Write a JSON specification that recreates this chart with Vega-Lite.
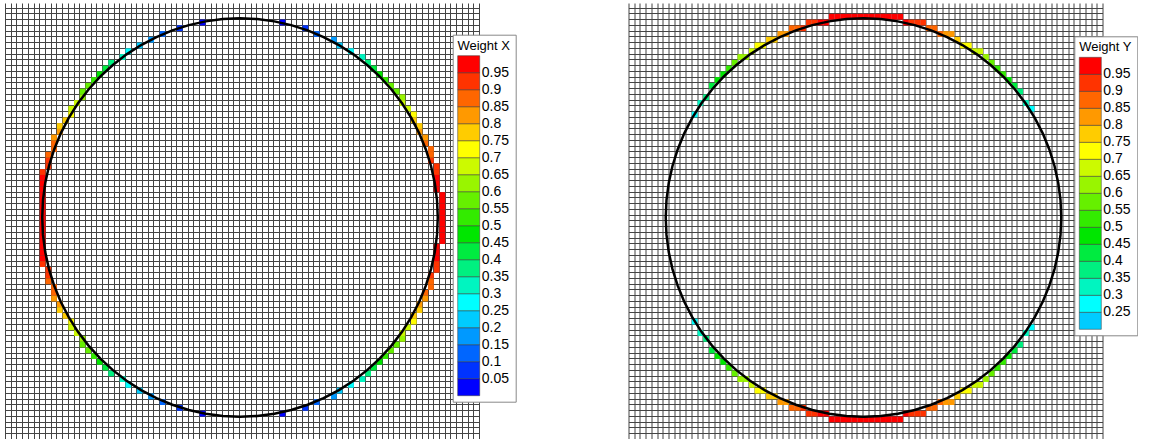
{
  "$schema": "https://vega.github.io/schema/vega-lite/v6.json",
  "background": "white",
  "padding": {"left": 5, "top": 3, "right": 0, "bottom": 0},
  "config": {
    "view": {"stroke": null},
    "font": "Liberation Sans",
    "concat": {"spacing": 111.5},
    "axis": {"grid": true, "labels": false, "ticks": false, "domain": false, "title": null, "gridColor": "#444444", "gridWidth": 1, "gridOpacity": 1, "zindex": 1},
    "legend": {"type": "gradient", "orient": "none", "padding": 5, "strokeColor": "#888888", "fillColor": "white", "titleFont": "Liberation Sans", "labelFont": "Liberation Sans", "titleFontSize": 13, "labelFontSize": 14, "titleFontWeight": "normal", "titleColor": "black", "labelColor": "black", "titleAnchor": "middle", "titlePadding": 3, "gradientThickness": 22, "gradientStrokeColor": "#333333", "gradientStrokeWidth": 0.5, "direction": "vertical", "format": ".2~f", "labelOverlap": false, "labelOffset": 9}
  },
  "resolve": {"scale": {"color": "independent"}, "legend": {"color": "independent"}},
  "datasets": {
    "cellsX": [
      {"c": 6, "r": 36, "w": 1},
      {"c": 6, "r": 35, "w": 0.9992}, {"c": 76, "r": 35, "w": 0.9992}, {"c": 6, "r": 37, "w": 0.9992}, {"c": 76, "r": 37, "w": 0.9992},
      {"c": 6, "r": 34, "w": 0.9967}, {"c": 76, "r": 34, "w": 0.9967}, {"c": 6, "r": 38, "w": 0.9967}, {"c": 76, "r": 38, "w": 0.9967},
      {"c": 6, "r": 33, "w": 0.9925}, {"c": 76, "r": 33, "w": 0.9925}, {"c": 6, "r": 39, "w": 0.9925}, {"c": 76, "r": 39, "w": 0.9925},
      {"c": 6, "r": 32, "w": 0.9867}, {"c": 76, "r": 32, "w": 0.9867}, {"c": 6, "r": 40, "w": 0.9867}, {"c": 76, "r": 40, "w": 0.9867},
      {"c": 6, "r": 31, "w": 0.9792}, {"c": 75, "r": 31, "w": 0.9792}, {"c": 6, "r": 41, "w": 0.9792}, {"c": 75, "r": 41, "w": 0.9792},
      {"c": 6, "r": 30, "w": 0.97}, {"c": 75, "r": 30, "w": 0.97}, {"c": 6, "r": 42, "w": 0.97}, {"c": 75, "r": 42, "w": 0.97},
      {"c": 6, "r": 29, "w": 0.9591}, {"c": 75, "r": 29, "w": 0.9591}, {"c": 6, "r": 43, "w": 0.9591}, {"c": 75, "r": 43, "w": 0.9591},
      {"c": 6, "r": 28, "w": 0.9466}, {"c": 75, "r": 28, "w": 0.9466}, {"c": 6, "r": 44, "w": 0.9466}, {"c": 75, "r": 44, "w": 0.9466},
      {"c": 7, "r": 27, "w": 0.9325}, {"c": 75, "r": 27, "w": 0.9325}, {"c": 7, "r": 45, "w": 0.9325}, {"c": 75, "r": 45, "w": 0.9325},
      {"c": 7, "r": 26, "w": 0.9166}, {"c": 74, "r": 26, "w": 0.9166}, {"c": 7, "r": 46, "w": 0.9166}, {"c": 74, "r": 46, "w": 0.9166},
      {"c": 7, "r": 25, "w": 0.8991}, {"c": 74, "r": 25, "w": 0.8991}, {"c": 7, "r": 47, "w": 0.8991}, {"c": 74, "r": 47, "w": 0.8991},
      {"c": 8, "r": 24, "w": 0.8799}, {"c": 74, "r": 24, "w": 0.8799}, {"c": 8, "r": 48, "w": 0.8799}, {"c": 74, "r": 48, "w": 0.8799},
      {"c": 8, "r": 23, "w": 0.8591}, {"c": 73, "r": 23, "w": 0.8591}, {"c": 8, "r": 49, "w": 0.8591}, {"c": 73, "r": 49, "w": 0.8591},
      {"c": 8, "r": 22, "w": 0.8366}, {"c": 73, "r": 22, "w": 0.8366}, {"c": 8, "r": 50, "w": 0.8366}, {"c": 73, "r": 50, "w": 0.8366},
      {"c": 9, "r": 21, "w": 0.8124}, {"c": 72, "r": 21, "w": 0.8124}, {"c": 9, "r": 51, "w": 0.8124}, {"c": 72, "r": 51, "w": 0.8124},
      {"c": 9, "r": 20, "w": 0.7865}, {"c": 72, "r": 20, "w": 0.7865}, {"c": 9, "r": 52, "w": 0.7865}, {"c": 72, "r": 52, "w": 0.7865},
      {"c": 10, "r": 19, "w": 0.759}, {"c": 71, "r": 19, "w": 0.759}, {"c": 10, "r": 53, "w": 0.759}, {"c": 71, "r": 53, "w": 0.759},
      {"c": 11, "r": 18, "w": 0.7298}, {"c": 71, "r": 18, "w": 0.7298}, {"c": 11, "r": 54, "w": 0.7298}, {"c": 71, "r": 54, "w": 0.7298},
      {"c": 11, "r": 17, "w": 0.699}, {"c": 70, "r": 17, "w": 0.699}, {"c": 11, "r": 55, "w": 0.699}, {"c": 70, "r": 55, "w": 0.699},
      {"c": 12, "r": 16, "w": 0.6665}, {"c": 69, "r": 16, "w": 0.6665}, {"c": 12, "r": 56, "w": 0.6665}, {"c": 69, "r": 56, "w": 0.6665},
      {"c": 13, "r": 15, "w": 0.6323}, {"c": 69, "r": 15, "w": 0.6323}, {"c": 13, "r": 57, "w": 0.6323}, {"c": 69, "r": 57, "w": 0.6323},
      {"c": 13, "r": 14, "w": 0.5964}, {"c": 68, "r": 14, "w": 0.5964}, {"c": 13, "r": 58, "w": 0.5964}, {"c": 68, "r": 58, "w": 0.5964},
      {"c": 14, "r": 13, "w": 0.5589}, {"c": 67, "r": 13, "w": 0.5589}, {"c": 14, "r": 59, "w": 0.5589}, {"c": 67, "r": 59, "w": 0.5589},
      {"c": 15, "r": 12, "w": 0.5197}, {"c": 66, "r": 12, "w": 0.5197}, {"c": 15, "r": 60, "w": 0.5197}, {"c": 66, "r": 60, "w": 0.5197},
      {"c": 16, "r": 11, "w": 0.4788}, {"c": 65, "r": 11, "w": 0.4788}, {"c": 16, "r": 61, "w": 0.4788}, {"c": 65, "r": 61, "w": 0.4788},
      {"c": 17, "r": 10, "w": 0.4363}, {"c": 64, "r": 10, "w": 0.4363}, {"c": 17, "r": 62, "w": 0.4363}, {"c": 64, "r": 62, "w": 0.4363},
      {"c": 18, "r": 9, "w": 0.3921}, {"c": 63, "r": 9, "w": 0.3921}, {"c": 18, "r": 63, "w": 0.3921}, {"c": 63, "r": 63, "w": 0.3921},
      {"c": 20, "r": 8, "w": 0.3463}, {"c": 62, "r": 8, "w": 0.3463}, {"c": 20, "r": 64, "w": 0.3463}, {"c": 62, "r": 64, "w": 0.3463},
      {"c": 21, "r": 7, "w": 0.2987}, {"c": 60, "r": 7, "w": 0.2987}, {"c": 21, "r": 65, "w": 0.2987}, {"c": 60, "r": 65, "w": 0.2987},
      {"c": 23, "r": 6, "w": 0.2495}, {"c": 58, "r": 6, "w": 0.2495}, {"c": 23, "r": 66, "w": 0.2495}, {"c": 58, "r": 66, "w": 0.2495},
      {"c": 25, "r": 5, "w": 0.1987}, {"c": 57, "r": 5, "w": 0.1987}, {"c": 25, "r": 67, "w": 0.1987}, {"c": 57, "r": 67, "w": 0.1987},
      {"c": 27, "r": 4, "w": 0.1461}, {"c": 54, "r": 4, "w": 0.1461}, {"c": 27, "r": 68, "w": 0.1461}, {"c": 54, "r": 68, "w": 0.1461},
      {"c": 30, "r": 3, "w": 0.0919}, {"c": 52, "r": 3, "w": 0.0919}, {"c": 30, "r": 69, "w": 0.0919}, {"c": 52, "r": 69, "w": 0.0919},
      {"c": 34, "r": 2, "w": 0.0361}, {"c": 48, "r": 2, "w": 0.0361}, {"c": 34, "r": 70, "w": 0.0361}, {"c": 48, "r": 70, "w": 0.0361},
      {"c": 76, "r": 36, "w": 1}
    ],
    "cellsY": [
      {"c": 11, "r": 18, "w": 0.2669}, {"c": 11, "r": 54, "w": 0.2669},
      {"c": 12, "r": 16, "w": 0.3156}, {"c": 12, "r": 56, "w": 0.3156},
      {"c": 13, "r": 15, "w": 0.3625}, {"c": 13, "r": 57, "w": 0.3625},
      {"c": 14, "r": 13, "w": 0.4078}, {"c": 14, "r": 59, "w": 0.4078},
      {"c": 15, "r": 12, "w": 0.4514}, {"c": 15, "r": 60, "w": 0.4514},
      {"c": 16, "r": 11, "w": 0.4933}, {"c": 16, "r": 61, "w": 0.4933},
      {"c": 17, "r": 10, "w": 0.5336}, {"c": 17, "r": 62, "w": 0.5336},
      {"c": 18, "r": 9, "w": 0.5722}, {"c": 18, "r": 63, "w": 0.5722},
      {"c": 19, "r": 8, "w": 0.6092}, {"c": 19, "r": 64, "w": 0.6092},
      {"c": 20, "r": 8, "w": 0.6444}, {"c": 20, "r": 64, "w": 0.6444},
      {"c": 21, "r": 7, "w": 0.678}, {"c": 21, "r": 65, "w": 0.678},
      {"c": 22, "r": 6, "w": 0.71}, {"c": 22, "r": 66, "w": 0.71},
      {"c": 23, "r": 6, "w": 0.7402}, {"c": 23, "r": 66, "w": 0.7402},
      {"c": 24, "r": 5, "w": 0.7688}, {"c": 24, "r": 67, "w": 0.7688},
      {"c": 25, "r": 5, "w": 0.7958}, {"c": 25, "r": 67, "w": 0.7958},
      {"c": 26, "r": 4, "w": 0.821}, {"c": 26, "r": 68, "w": 0.821},
      {"c": 27, "r": 4, "w": 0.8446}, {"c": 27, "r": 68, "w": 0.8446},
      {"c": 28, "r": 3, "w": 0.8666}, {"c": 28, "r": 69, "w": 0.8666},
      {"c": 29, "r": 3, "w": 0.8868}, {"c": 29, "r": 69, "w": 0.8868},
      {"c": 30, "r": 3, "w": 0.9054}, {"c": 30, "r": 69, "w": 0.9054},
      {"c": 31, "r": 2, "w": 0.9224}, {"c": 31, "r": 70, "w": 0.9224},
      {"c": 32, "r": 2, "w": 0.9376}, {"c": 32, "r": 70, "w": 0.9376},
      {"c": 33, "r": 2, "w": 0.9512}, {"c": 33, "r": 70, "w": 0.9512},
      {"c": 34, "r": 2, "w": 0.9631}, {"c": 34, "r": 70, "w": 0.9631},
      {"c": 35, "r": 1, "w": 0.9734}, {"c": 35, "r": 71, "w": 0.9734},
      {"c": 36, "r": 1, "w": 0.982}, {"c": 36, "r": 71, "w": 0.982},
      {"c": 37, "r": 1, "w": 0.9889}, {"c": 37, "r": 71, "w": 0.9889},
      {"c": 38, "r": 1, "w": 0.9941}, {"c": 38, "r": 71, "w": 0.9941},
      {"c": 39, "r": 1, "w": 0.9977}, {"c": 39, "r": 71, "w": 0.9977},
      {"c": 40, "r": 1, "w": 0.9997}, {"c": 40, "r": 71, "w": 0.9997},
      {"c": 41, "r": 1, "w": 0.9999}, {"c": 41, "r": 71, "w": 0.9999},
      {"c": 42, "r": 1, "w": 0.9985}, {"c": 42, "r": 71, "w": 0.9985},
      {"c": 43, "r": 1, "w": 0.9954}, {"c": 43, "r": 71, "w": 0.9954},
      {"c": 44, "r": 1, "w": 0.9906}, {"c": 44, "r": 71, "w": 0.9906},
      {"c": 45, "r": 1, "w": 0.9842}, {"c": 45, "r": 71, "w": 0.9842},
      {"c": 46, "r": 1, "w": 0.9761}, {"c": 46, "r": 71, "w": 0.9761},
      {"c": 47, "r": 1, "w": 0.9664}, {"c": 47, "r": 71, "w": 0.9664},
      {"c": 48, "r": 2, "w": 0.955}, {"c": 48, "r": 70, "w": 0.955},
      {"c": 49, "r": 2, "w": 0.9419}, {"c": 49, "r": 70, "w": 0.9419},
      {"c": 50, "r": 2, "w": 0.9271}, {"c": 50, "r": 70, "w": 0.9271},
      {"c": 51, "r": 2, "w": 0.9107}, {"c": 51, "r": 70, "w": 0.9107},
      {"c": 52, "r": 3, "w": 0.8926}, {"c": 52, "r": 69, "w": 0.8926},
      {"c": 53, "r": 3, "w": 0.8728}, {"c": 53, "r": 69, "w": 0.8728},
      {"c": 54, "r": 4, "w": 0.8514}, {"c": 54, "r": 68, "w": 0.8514},
      {"c": 55, "r": 4, "w": 0.8283}, {"c": 55, "r": 68, "w": 0.8283},
      {"c": 56, "r": 4, "w": 0.8035}, {"c": 56, "r": 68, "w": 0.8035},
      {"c": 57, "r": 5, "w": 0.7771}, {"c": 57, "r": 67, "w": 0.7771},
      {"c": 58, "r": 6, "w": 0.749}, {"c": 58, "r": 66, "w": 0.749},
      {"c": 59, "r": 6, "w": 0.7192}, {"c": 59, "r": 66, "w": 0.7192},
      {"c": 60, "r": 7, "w": 0.6878}, {"c": 60, "r": 65, "w": 0.6878},
      {"c": 61, "r": 7, "w": 0.6547}, {"c": 61, "r": 65, "w": 0.6547},
      {"c": 62, "r": 8, "w": 0.6199}, {"c": 62, "r": 64, "w": 0.6199},
      {"c": 63, "r": 9, "w": 0.5835}, {"c": 63, "r": 63, "w": 0.5835},
      {"c": 64, "r": 10, "w": 0.5454}, {"c": 64, "r": 62, "w": 0.5454},
      {"c": 65, "r": 11, "w": 0.5056}, {"c": 65, "r": 61, "w": 0.5056},
      {"c": 66, "r": 12, "w": 0.4642}, {"c": 66, "r": 60, "w": 0.4642},
      {"c": 67, "r": 13, "w": 0.421}, {"c": 67, "r": 59, "w": 0.421},
      {"c": 68, "r": 14, "w": 0.3763}, {"c": 68, "r": 58, "w": 0.3763},
      {"c": 69, "r": 16, "w": 0.3298}, {"c": 69, "r": 56, "w": 0.3298},
      {"c": 70, "r": 17, "w": 0.2817}, {"c": 70, "r": 55, "w": 0.2817}
    ],
    "circle": [
      {"o": 0, "u": 1, "v": 0}, {"o": 1, "u": 0.9962, "v": 0.0872}, {"o": 2, "u": 0.9848, "v": 0.1736}, {"o": 3, "u": 0.9659, "v": 0.2588},
      {"o": 4, "u": 0.9397, "v": 0.342}, {"o": 5, "u": 0.9063, "v": 0.4226}, {"o": 6, "u": 0.866, "v": 0.5}, {"o": 7, "u": 0.8192, "v": 0.5736},
      {"o": 8, "u": 0.766, "v": 0.6428}, {"o": 9, "u": 0.7071, "v": 0.7071}, {"o": 10, "u": 0.6428, "v": 0.766}, {"o": 11, "u": 0.5736, "v": 0.8192},
      {"o": 12, "u": 0.5, "v": 0.866}, {"o": 13, "u": 0.4226, "v": 0.9063}, {"o": 14, "u": 0.342, "v": 0.9397}, {"o": 15, "u": 0.2588, "v": 0.9659},
      {"o": 16, "u": 0.1736, "v": 0.9848}, {"o": 17, "u": 0.0872, "v": 0.9962}, {"o": 18, "u": 0, "v": 1}, {"o": 19, "u": -0.0872, "v": 0.9962},
      {"o": 20, "u": -0.1736, "v": 0.9848}, {"o": 21, "u": -0.2588, "v": 0.9659}, {"o": 22, "u": -0.342, "v": 0.9397}, {"o": 23, "u": -0.4226, "v": 0.9063},
      {"o": 24, "u": -0.5, "v": 0.866}, {"o": 25, "u": -0.5736, "v": 0.8192}, {"o": 26, "u": -0.6428, "v": 0.766}, {"o": 27, "u": -0.7071, "v": 0.7071},
      {"o": 28, "u": -0.766, "v": 0.6428}, {"o": 29, "u": -0.8192, "v": 0.5736}, {"o": 30, "u": -0.866, "v": 0.5}, {"o": 31, "u": -0.9063, "v": 0.4226},
      {"o": 32, "u": -0.9397, "v": 0.342}, {"o": 33, "u": -0.9659, "v": 0.2588}, {"o": 34, "u": -0.9848, "v": 0.1736}, {"o": 35, "u": -0.9962, "v": 0.0872},
      {"o": 36, "u": -1, "v": 0}, {"o": 37, "u": -0.9962, "v": -0.0872}, {"o": 38, "u": -0.9848, "v": -0.1736}, {"o": 39, "u": -0.9659, "v": -0.2588},
      {"o": 40, "u": -0.9397, "v": -0.342}, {"o": 41, "u": -0.9063, "v": -0.4226}, {"o": 42, "u": -0.866, "v": -0.5}, {"o": 43, "u": -0.8192, "v": -0.5736},
      {"o": 44, "u": -0.766, "v": -0.6428}, {"o": 45, "u": -0.7071, "v": -0.7071}, {"o": 46, "u": -0.6428, "v": -0.766}, {"o": 47, "u": -0.5736, "v": -0.8192},
      {"o": 48, "u": -0.5, "v": -0.866}, {"o": 49, "u": -0.4226, "v": -0.9063}, {"o": 50, "u": -0.342, "v": -0.9397}, {"o": 51, "u": -0.2588, "v": -0.9659},
      {"o": 52, "u": -0.1736, "v": -0.9848}, {"o": 53, "u": -0.0872, "v": -0.9962}, {"o": 54, "u": 0, "v": -1}, {"o": 55, "u": 0.0872, "v": -0.9962},
      {"o": 56, "u": 0.1736, "v": -0.9848}, {"o": 57, "u": 0.2588, "v": -0.9659}, {"o": 58, "u": 0.342, "v": -0.9397}, {"o": 59, "u": 0.4226, "v": -0.9063},
      {"o": 60, "u": 0.5, "v": -0.866}, {"o": 61, "u": 0.5736, "v": -0.8192}, {"o": 62, "u": 0.6428, "v": -0.766}, {"o": 63, "u": 0.7071, "v": -0.7071},
      {"o": 64, "u": 0.766, "v": -0.6428}, {"o": 65, "u": 0.8192, "v": -0.5736}, {"o": 66, "u": 0.866, "v": -0.5}, {"o": 67, "u": 0.9063, "v": -0.4226},
      {"o": 68, "u": 0.9397, "v": -0.342}, {"o": 69, "u": 0.9659, "v": -0.2588}, {"o": 70, "u": 0.9848, "v": -0.1736}, {"o": 71, "u": 0.9962, "v": -0.0872},
      {"o": 72, "u": 1, "v": 0}
    ]
  },
  "hconcat": [
    {
      "width": 474, "height": 436,
      "layer": [
        {
          "data": {"name": "cellsX"},
          "mark": {"type": "rect"},
          "encoding": {
            "x": {"field": "c", "type": "quantitative", "bin": {"step": 1, "extent": [0, 83]}, "scale": {"domain": [0, 83], "nice": false, "zero": false}, "axis": {"tickCount": 83}},
            "y": {"field": "r", "type": "quantitative", "bin": {"step": 1, "extent": [-1, 75]}, "scale": {"domain": [-0.8, 75], "nice": false, "zero": false, "reverse": true}, "axis": {"tickCount": 76}},
            "color": {
              "field": "w", "type": "quantitative", "title": "Weight X",
              "scale": {"type": "threshold",
                "domain": [0.05, 0.1, 0.15, 0.2, 0.25, 0.3, 0.35, 0.4, 0.45, 0.5, 0.55, 0.6, 0.65, 0.7, 0.75, 0.8, 0.85, 0.9, 0.95],
                "range": ["#0000ff", "#0033ff", "#0066ff", "#0099ff", "#00ccff", "#00ffff", "#00f5c0", "#00f080", "#00eb40", "#00e600", "#33eb00", "#66f000", "#99f500", "#ccfa00", "#ffff00", "#ffcc00", "#ff9900", "#ff6600", "#ff3300", "#ff0000"]},
              "legend": {"type": "gradient", "legendX": 447.7, "legendY": 31.7, "gradientLength": 340}
            }
          }
        },
        {
          "data": {"name": "circle"},
          "mark": {"type": "line", "stroke": "black", "strokeWidth": 2.5},
          "encoding": {
            "x": {"field": "u", "type": "quantitative", "scale": {"domain": [-1.18828, 1.20849], "nice": false, "zero": false}, "axis": null},
            "y": {"field": "v", "type": "quantitative", "scale": {"domain": [-1.11175, 1.0771], "nice": false, "zero": false}, "axis": null},
            "order": {"field": "o", "type": "quantitative"}
          }
        }
      ],
      "resolve": {"scale": {"x": "independent", "y": "independent"}}
    },
    {
      "width": 474, "height": 436,
      "layer": [
        {
          "data": {"name": "cellsY"},
          "mark": {"type": "rect"},
          "encoding": {
            "x": {"field": "c", "type": "quantitative", "bin": {"step": 1, "extent": [0, 83]}, "scale": {"domain": [0, 83], "nice": false, "zero": false}, "axis": {"tickCount": 83}},
            "y": {"field": "r", "type": "quantitative", "bin": {"step": 1, "extent": [-1, 75]}, "scale": {"domain": [-0.8, 75], "nice": false, "zero": false, "reverse": true}, "axis": {"tickCount": 76}},
            "color": {
              "field": "w", "type": "quantitative", "title": "Weight Y",
              "scale": {"type": "threshold",
                "domain": [0.25, 0.3, 0.35, 0.4, 0.45, 0.5, 0.55, 0.6, 0.65, 0.7, 0.75, 0.8, 0.85, 0.9, 0.95],
                "range": ["#00ccff", "#00ffff", "#00f5c0", "#00f080", "#00eb40", "#00e600", "#33eb00", "#66f000", "#99f500", "#ccfa00", "#ffff00", "#ffcc00", "#ff9900", "#ff6600", "#ff3300", "#ff0000"]},
              "legend": {"type": "gradient", "legendX": 445.8, "legendY": 33.3, "gradientLength": 272}
            }
          }
        },
        {
          "data": {"name": "circle"},
          "mark": {"type": "line", "stroke": "black", "strokeWidth": 2.5},
          "encoding": {
            "x": {"field": "u", "type": "quantitative", "scale": {"domain": [-1.18828, 1.20849], "nice": false, "zero": false}, "axis": null},
            "y": {"field": "v", "type": "quantitative", "scale": {"domain": [-1.11175, 1.0771], "nice": false, "zero": false}, "axis": null},
            "order": {"field": "o", "type": "quantitative"}
          }
        }
      ],
      "resolve": {"scale": {"x": "independent", "y": "independent"}}
    }
  ]
}
